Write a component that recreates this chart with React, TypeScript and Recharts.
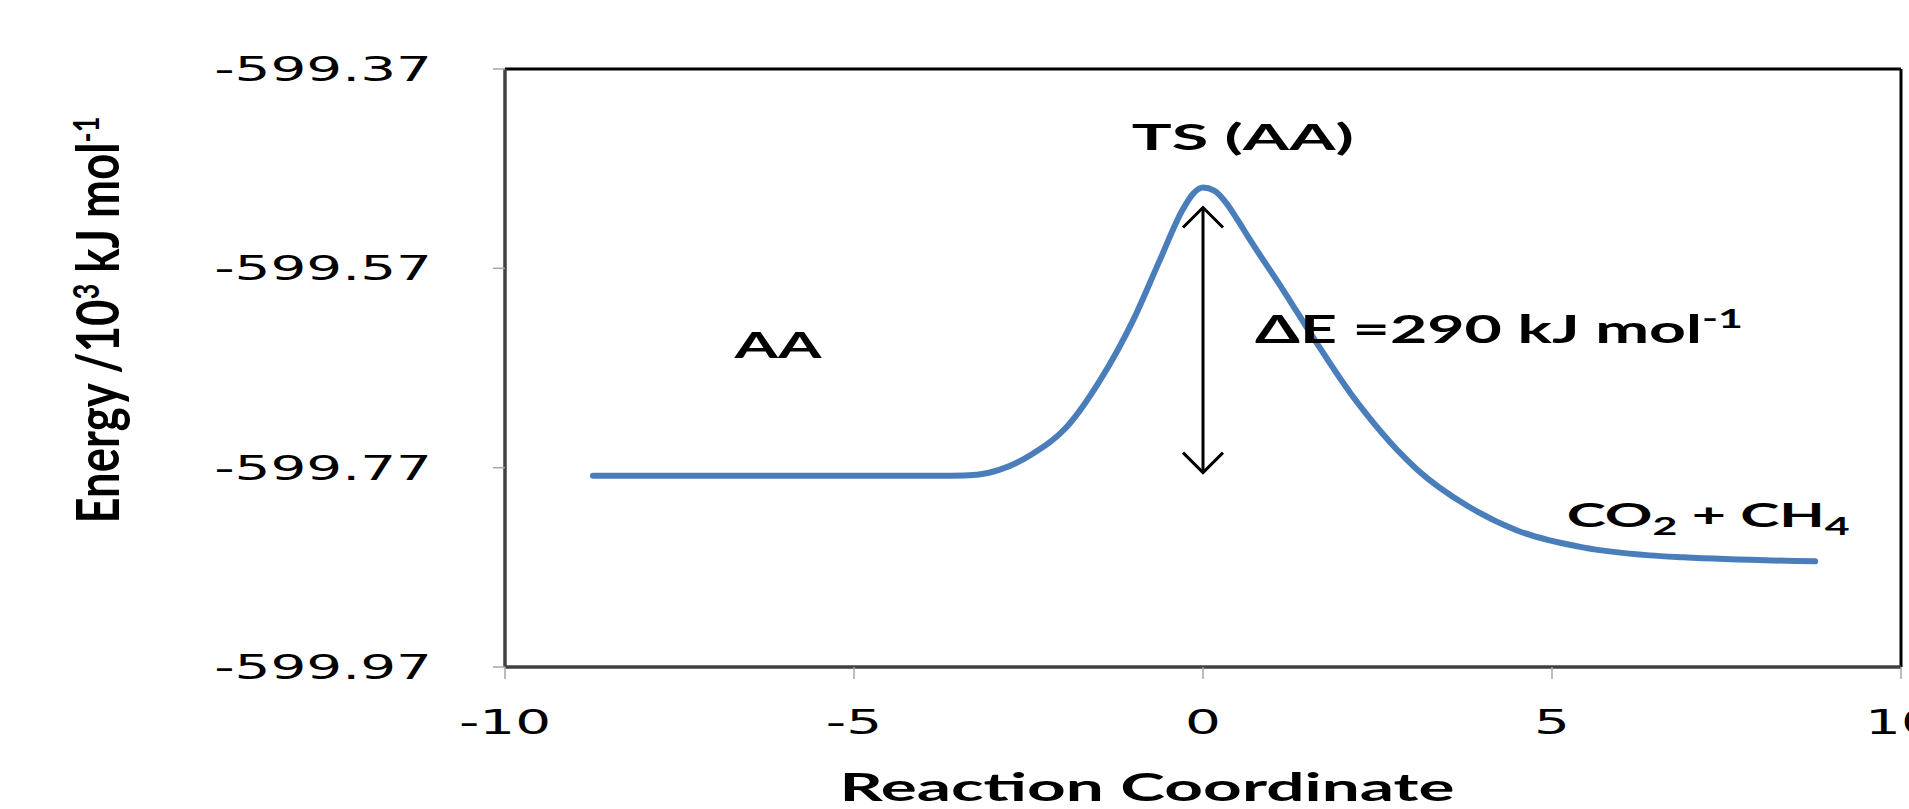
import React from "react";
import { LineChart, Line, XAxis, YAxis, ReferenceLine, ReferenceDot } from "recharts";

// values (energy in 10^3 kJ/mol)
const coordinate = [-8.74, -7, -5, -3.6, -3.24, -2.91, -2.44, -1.95, -1.48, -1.0, -0.62, -0.29, -0.14, 0, 0.16, 0.34, 0.5, 0.67, 1.15, 1.63, 2.11, 2.35, 2.78, 3.07, 3.78, 4.5, 5.44, 6.4, 6.88, 8.77];
const energy = [-599.778, -599.778, -599.778, -599.778, -599.777, -599.772, -599.756, -599.729, -599.683, -599.622, -599.562, -599.511, -599.495, -599.489, -599.492, -599.505, -599.522, -599.541, -599.592, -599.645, -599.695, -599.717, -599.752, -599.772, -599.808, -599.833, -599.85, -599.858, -599.86, -599.864];

const xTicks = [-10, -5, 0, 5, 10];
const yTicks = [-599.97, -599.77, -599.57, -599.37];

// double arrow for the barrier height
const barrierTop = -599.509;
const barrierBottom = -599.775;

const data = coordinate.map((c, i) => ({ coordinate: c, energy: energy[i] }));

const FONT = "Lato, 'Open Sans', sans-serif";
const TICK_FONT = "'DejaVu Sans', Verdana, sans-serif";

const YTick = ({ x, y, payload }: any) => (
  <g transform={`translate(${x},${y})`}>
    <text textAnchor="end" dy={12} fontFamily={TICK_FONT} fontSize={34} fill="#000" transform="scale(1.66,1)">
      {Number(payload.value).toFixed(2)}
    </text>
  </g>
);

const XTick = ({ x, y, payload }: any) => (
  <g transform={`translate(${x},${y})`}>
    <text textAnchor="middle" dy={55} fontFamily={TICK_FONT} fontSize={34} fill="#000" transform="scale(1.66,1)">
      {payload.value}
    </text>
  </g>
);

const ArrowShape = ({ x1, y1, x2, y2 }: any) => {
  const top = Math.min(y1, y2);
  const bottom = Math.max(y1, y2);
  const h = 20;
  return (
    <g stroke="#000" strokeWidth={3} fill="none">
      <line x1={x1} y1={top} x2={x2} y2={bottom} />
      <polyline points={`${x1 - h},${top + h} ${x1},${top} ${x1 + h},${top + h}`} />
      <polyline points={`${x1 - h},${bottom - h} ${x1},${bottom} ${x1 + h},${bottom - h}`} />
    </g>
  );
};

const boldText = { fontFamily: FONT, fontWeight: 700, fill: "#000" };

export default function App() {
  return (
    <div style={{ position: "absolute", left: 0, top: 0, width: 1909, height: 809, background: "#fff" }}>
      <LineChart width={1909} height={809} data={data} margin={{ top: 69, right: 8, bottom: 82, left: 445 }}>
        <XAxis
          dataKey="coordinate"
          type="number"
          domain={[-10, 10]}
          ticks={xTicks}
          height={60}
          axisLine={{ stroke: "#404040", strokeWidth: 3.5 }}
          tickLine={{ stroke: "#a6a6a6", strokeWidth: 1.5 }}
          tickSize={12}
          tickMargin={0}
          tick={<XTick />}
          interval={0}
          label={{
            content: () => (
              <text x={1147} y={801} textAnchor="middle" fontSize={39} textLength={615} lengthAdjust="spacingAndGlyphs" {...boldText}>
                Reaction Coordinate
              </text>
            ),
          }}
        />
        <YAxis
          type="number"
          domain={[-599.97, -599.37]}
          ticks={yTicks}
          width={60}
          allowDataOverflow
          axisLine={{ stroke: "#404040", strokeWidth: 3.5 }}
          tickLine={{ stroke: "#a6a6a6", strokeWidth: 1.5 }}
          tickSize={12}
          tickMargin={61}
          tick={<YTick />}
          interval={0}
          label={{
            content: () => (
              <text
                transform="translate(119,320) rotate(-90)"
                textAnchor="middle"
                fontSize={60}
                textLength={407}
                lengthAdjust="spacingAndGlyphs"
                {...boldText}
              >
                Energy /10<tspan dy={-20} fontSize={36}>3</tspan>
                <tspan dy={20}> kJ mol</tspan>
                <tspan dy={-20} fontSize={36}>-1</tspan>
              </text>
            ),
          }}
        />
        <ReferenceLine y={-599.37} stroke="#000" strokeWidth={3} />
        <ReferenceLine x={10} stroke="#000" strokeWidth={3} />
        <ReferenceLine
          segment={[{ x: 0, y: barrierTop }, { x: 0, y: barrierBottom }]}
          shape={<ArrowShape />}
        />
        <ReferenceDot
          x={0.57}
          y={-599.451}
          r={0}
          shape={(p: any) => (
            <text x={p.cx} y={p.cy} textAnchor="middle" fontSize={37} textLength={222} lengthAdjust="spacingAndGlyphs" {...boldText}>
              TS (AA)
            </text>
          )}
        />
        <ReferenceDot
          x={-6.09}
          y={-599.66}
          r={0}
          shape={(p: any) => (
            <text x={p.cx} y={p.cy} textAnchor="middle" fontSize={37} textLength={87} lengthAdjust="spacingAndGlyphs" {...boldText}>
              AA
            </text>
          )}
        />
        <ReferenceDot
          x={0.745}
          y={-599.645}
          r={0}
          shape={(p: any) => (
            <text x={p.cx} y={p.cy} fontSize={39} textLength={488} lengthAdjust="spacingAndGlyphs" {...boldText}>
              ΔE =290 kJ mol<tspan dy={-15} fontSize={26}>-1</tspan>
            </text>
          )}
        />
        <ReferenceDot
          x={5.21}
          y={-599.83}
          r={0}
          shape={(p: any) => (
            <text x={p.cx} y={p.cy} fontSize={33} textLength={283} lengthAdjust="spacingAndGlyphs" {...boldText}>
              CO<tspan dy={8} fontSize={24}>2</tspan>
              <tspan dy={-8}> + CH</tspan>
              <tspan dy={8} fontSize={24}>4</tspan>
            </text>
          )}
        />
        <Line
          type="monotone"
          dataKey="energy"
          stroke="#4a7ebb"
          strokeWidth={6}
          strokeLinecap="round"
          dot={false}
          activeDot={false}
          isAnimationActive={false}
        />
      </LineChart>
    </div>
  );
}
